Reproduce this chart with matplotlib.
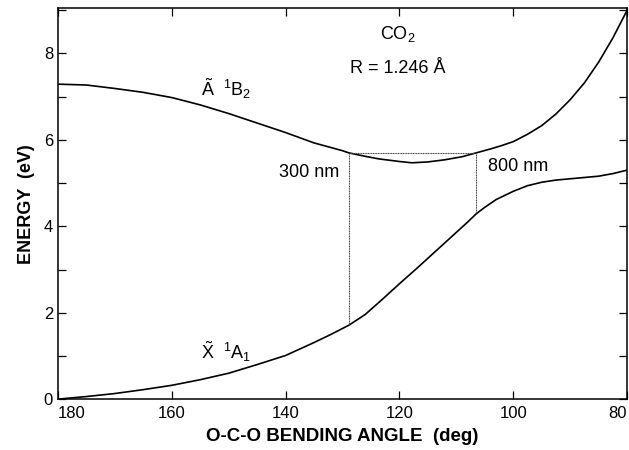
import matplotlib
matplotlib.use("Agg")
import matplotlib.pyplot as plt
from matplotlib.ticker import MultipleLocator

plt.rcParams['font.family'] = ['Liberation Sans', 'DejaVu Sans']
plt.rcParams['mathtext.fontset'] = 'custom'
plt.rcParams['mathtext.rm'] = 'Liberation Sans'
plt.rcParams['mathtext.it'] = 'Liberation Sans:italic'

# upper state A 1B2
ang_a = [180, 175, 170, 165, 160, 155, 150, 145, 140, 135, 130, 128.9, 126,
         123.6, 120, 117.8, 115, 112, 109, 106.5, 104, 102, 100, 97.5, 95,
         92.5, 90, 87.5, 85, 82.5, 80]
en_a = [7.29, 7.27, 7.19, 7.10, 6.98, 6.81, 6.61, 6.39, 6.17, 5.93, 5.75, 5.70,
        5.62, 5.56, 5.50, 5.47, 5.49, 5.54, 5.61, 5.70, 5.79, 5.87, 5.96, 6.13,
        6.33, 6.60, 6.93, 7.32, 7.80, 8.36, 9.0]

# ground state X 1A1
ang_x = [180, 175, 170, 165, 160, 155, 150, 145, 140, 135, 132, 128.9, 126,
         123, 120, 117, 115, 112.5, 110, 108, 106.5, 105, 103, 100, 97.5, 95,
         92.5, 90, 87.5, 85, 82.5, 80]
en_x = [0.0, 0.06, 0.13, 0.22, 0.32, 0.45, 0.60, 0.80, 1.01, 1.31, 1.50, 1.71,
        1.96, 2.31, 2.67, 3.02, 3.26, 3.56, 3.86, 4.10, 4.29, 4.44, 4.62, 4.81,
        4.94, 5.02, 5.07, 5.10, 5.13, 5.16, 5.22, 5.30]

# vertical transitions (300 nm, 800 nm)
trans_ang = [128.9, 106.5]
trans_lo = [1.71, 4.29]
trans_hi = [5.70, 5.70]

xticks = [180, 160, 140, 120, 100, 80]

fig = plt.figure(figsize=(6.29, 4.5), dpi=100)
ax = fig.add_axes([0.092, 0.113, 0.905, 0.869])

ax.plot(ang_a, en_a, color='black', lw=1.2)
ax.plot(ang_x, en_x, color='black', lw=1.2)

dots = (0, (1, 0.5))
for a, lo, hi in zip(trans_ang, trans_lo, trans_hi):
    ax.plot([a, a], [lo, hi], color='#444444', lw=0.8, ls=dots)
ax.plot(trans_ang, trans_hi, color='#444444', lw=0.8, ls=dots)

ax.set_xlim(180, 80)
ax.set_ylim(0, 9.05)
ax.set_xticks(xticks, labels=[str(t) for t in xticks])
ax.yaxis.set_major_locator(MultipleLocator(2))
ax.yaxis.set_minor_locator(MultipleLocator(1))
ax.tick_params(which='both', direction='in', top=True, right=True,
               labelsize=12, width=0.9, length=6)
ax.tick_params(axis='x', pad=5)
for s in ax.spines.values():
    s.set_linewidth(1.1)

xlabels = ax.get_xticklabels()
xlabels[0].set_horizontalalignment('left')
xlabels[-1].set_horizontalalignment('right')

ax.set_xlabel('O-C-O BENDING ANGLE  (deg)', fontsize=13.5, fontweight='bold', labelpad=5)
ax.set_ylabel('ENERGY  (eV)', fontsize=13, fontweight='bold', labelpad=6)

ax.text(120.3, 8.45, r'CO$_2$', fontsize=13, ha='center', va='center')
ax.text(120.3, 7.65, 'R = 1.246 Å', fontsize=13, ha='center', va='center')
ax.text(154.8, 7.18, r'$\tilde{\mathrm{A}}\ \ ^1\mathrm{B}_2$', fontsize=13, ha='left', va='center')
ax.text(154.8, 1.09, r'$\tilde{\mathrm{X}}\ \ ^1\mathrm{A}_1$', fontsize=13, ha='left', va='center')
ax.text(130.6, 5.25, '300 nm', fontsize=13, ha='right', va='center')
ax.text(104.5, 5.39, '800 nm', fontsize=13, ha='left', va='center')

fig.savefig('out.png', dpi=100)
